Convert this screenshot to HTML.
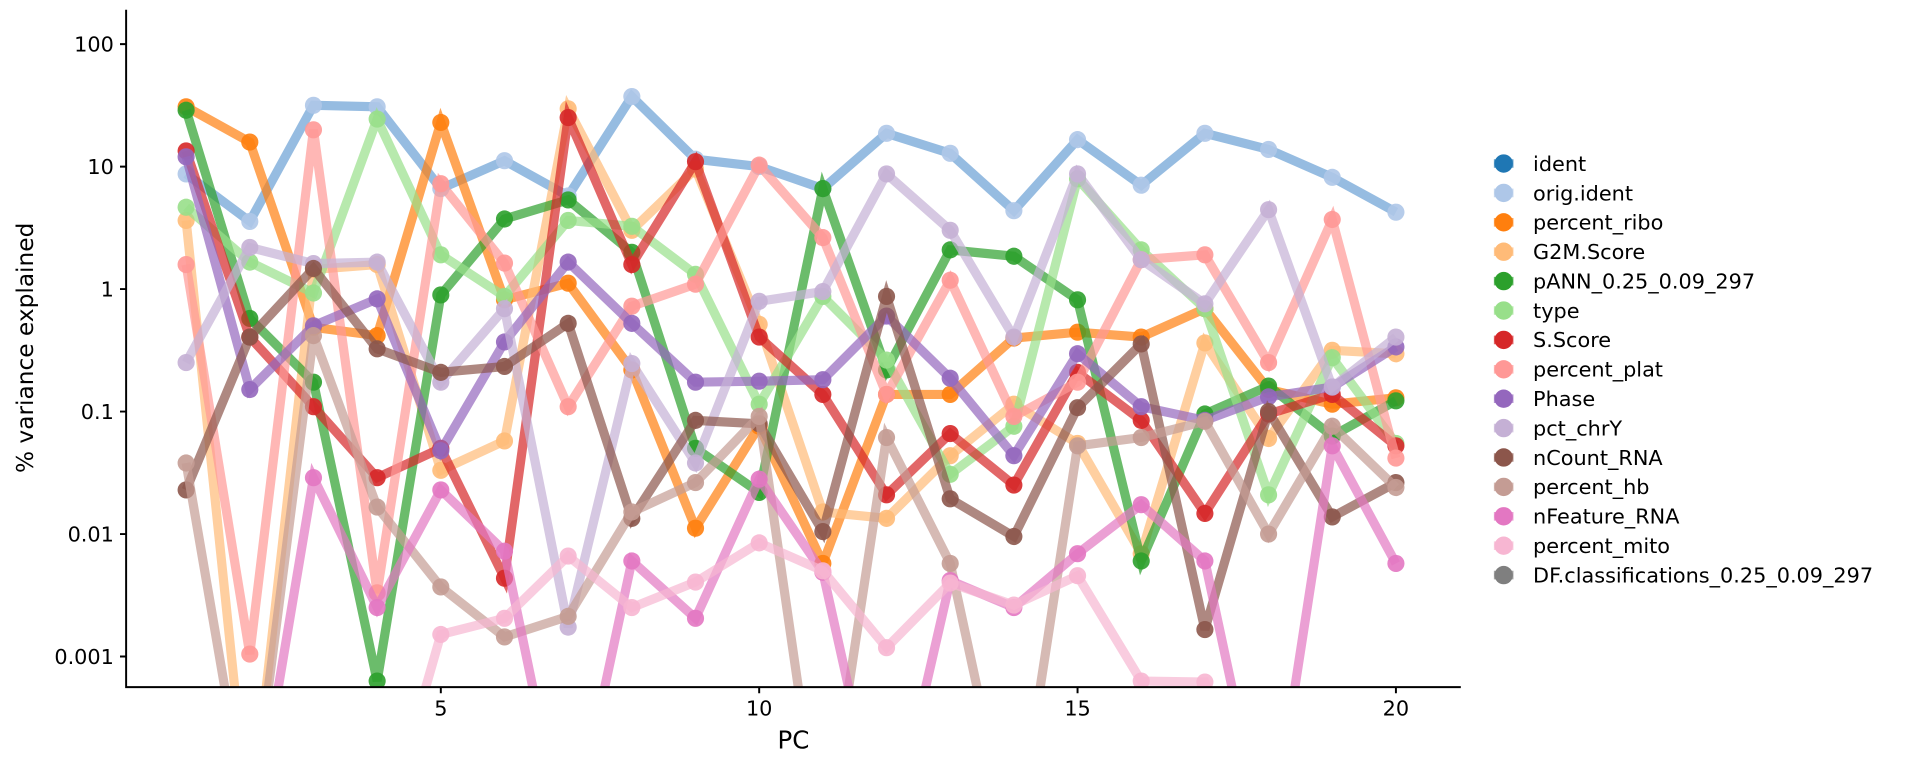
<!DOCTYPE html>
<html><head><meta charset="utf-8"><style>
html,body{margin:0;padding:0;background:#fff;width:1920px;height:768px;overflow:hidden;}
svg{display:block;font-family:"DejaVu Sans","Liberation Sans",sans-serif;}
</style></head><body>
<svg id="s" width="1920" height="768" viewBox="0 0 1568 627" preserveAspectRatio="none" xmlns="http://www.w3.org/2000/svg">
<defs><clipPath id="c"><rect x="104" y="4" width="1089" height="557"/></clipPath></defs>
<g id="plot" clip-path="url(#c)"></g>
<g stroke="#000" stroke-width="1.6" fill="none">
<path d="M103,8 V561 H1193"/>
<path d="M103,36 h-5 M103,136 h-5 M103,236 h-5 M103,336 h-5 M103,436 h-5 M103,536 h-5"/>
<path d="M360,561 v5 M620,561 v5 M880,561 v5 M1140,561 v5"/>
</g>
<g font-size="17" fill="#000" text-anchor="end">
<text x="93" y="42">100</text><text x="93" y="142">10</text><text x="93" y="242">1</text>
<text x="93" y="342">0.1</text><text x="93" y="442">0.01</text><text x="93" y="542">0.001</text>
</g>
<g font-size="17" fill="#000" text-anchor="middle">
<text x="360" y="584">5</text><text x="620" y="584">10</text><text x="880" y="584">15</text><text x="1140" y="584">20</text>
<text x="648" y="611" font-size="20">PC</text>
<text transform="translate(27,284) rotate(-90)" font-size="19">% variance explained</text>
</g>
<g id="leg" font-size="17" fill="#000"></g>
</svg>
<script>
var OI=[355,452,215,218,385,328,400,197,325,340,385,272,313,430,285,378,272,305,362,433];
var S=[
["ident","#1f77b4",null],
["orig.ident","#aec7e8",OI,"#6a9fd4"],
["percent_ribo","#ff7f0e",[218,290,668,685,250,612,578,755,1078,870,1150,805,805,690,678,688,630,795,825,812]],
["G2M.Score","#ffbb78",[450,1700,550,540,960,900,222,470,345,662,1045,1058,930,825,905,1130,700,895,715,722]],
["pANN_0.25_0.09_297","#2ca02c",[225,650,780,1390,602,447,408,515,915,1005,385,755,510,523,612,1145,845,788,890,818]],
["type","#98df8a",[423,535,598,243,520,605,450,462,560,825,605,735,968,870,365,510,630,1010,730,905]],
["S.Score","#d62728",[308,688,830,975,915,1180,240,540,330,688,805,1010,885,990,760,858,1048,845,805,910]],
["percent_plat","#ff9896",[540,1335,265,1210,375,537,830,625,580,337,485,805,572,850,780,530,520,740,448,935]],
["Phase","#9467bd",[320,795,665,610,920,698,535,660,780,778,775,645,772,930,722,830,858,810,790,708]],
["pct_chrY","#c5b0d5",[740,505,538,535,780,630,1280,742,945,615,595,355,470,688,355,530,620,428,790,688]],
["nCount_RNA","#8c564b",[1000,688,548,712,760,748,660,1058,858,865,1085,605,1018,1095,832,702,1285,840,1055,985]],
["percent_hb","#c49c94",[945,1700,685,1035,1198,1300,1258,1045,985,850,1750,893,1150,1750,910,893,860,1090,870,995]],
["nFeature_RNA","#e377c2",[1750,1750,975,1240,1000,1125,1750,1145,1262,978,1168,1750,1185,1240,1130,1030,1145,1750,910,1150]],
["percent_mito","#f7b6d2",[1750,1750,1750,1750,1295,1262,1135,1240,1188,1108,1165,1322,1190,1235,1175,1390,1392,1750,1750,1750]],
["DF.classifications_0.25_0.09_297","#7f7f7f",null]];
var NS="http://www.w3.org/2000/svg",P=document.getElementById("plot"),L=document.getElementById("leg");
function el(t,a,p){var e=document.createElementNS(NS,t);for(var k in a)e.setAttribute(k,a[k]);p.appendChild(e);return e;}
function draw(d,col,op,lc){var pts=d.map(function(v,j){return [152+j*52,v/2.5];});
  el("polyline",{points:pts.map(function(p){return p.join(",")}).join(" "),fill:"none",stroke:lc||col,"stroke-width":7.5,"stroke-opacity":op,"stroke-linejoin":"miter"},P);
  pts.forEach(function(p){el("circle",{cx:p[0],cy:p[1],r:7,fill:col,"fill-opacity":0.9},P);});}
S.forEach(function(s,i){
 if(s[2]) draw(s[2],s[1],0.7,s[3]);
 var y=133.5+i*24;
 el("line",{x1:1220,x2:1236,y1:y,y2:y,stroke:s[1],"stroke-width":7,"stroke-opacity":0.7},L);
 el("circle",{cx:1228,cy:y,r:7.5,fill:s[1]},L);
 var t=el("text",{x:1252,y:y+6},L);t.textContent=s[0];
});
</script>
</body></html>
